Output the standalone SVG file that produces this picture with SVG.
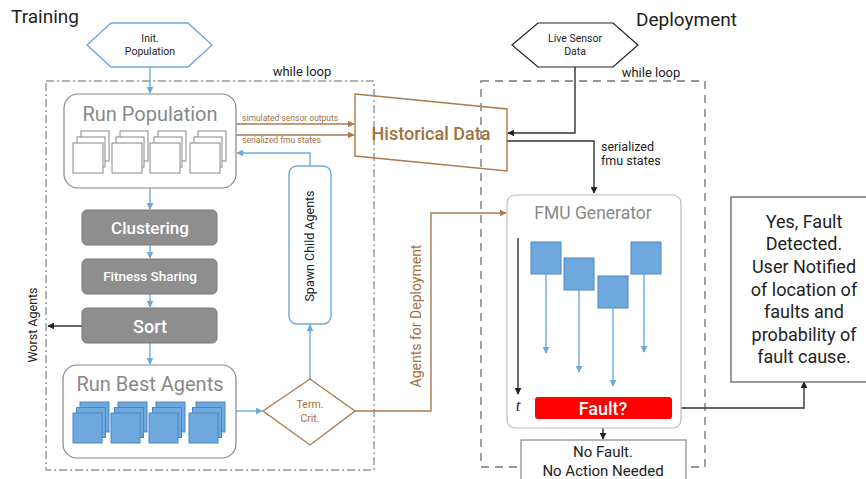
<svg xmlns="http://www.w3.org/2000/svg" width="866" height="479" viewBox="0 0 866 479">
<defs>
<style>
text{font-family:Roboto,"Liberation Sans",sans-serif;text-anchor:middle}
.title{font-size:19px;fill:#222;text-anchor:start}
.gbox{fill:#8e8e8e;stroke:#777;stroke-width:1}
.wtxt{fill:#fff;font-weight:500}
.rbox{fill:#fff;stroke:#888;stroke-width:1.2}
.gtitle{fill:#888;font-size:20px}
.paper{fill:#fff;stroke:#888;stroke-width:1}
.bpaper{fill:#6fa8dc;stroke:#4a86c8;stroke-width:1}
.blue{fill:none;stroke:#6fa8dc;stroke-width:1.4}
.brown{fill:none;stroke:#a97b4f;stroke-width:1.4}
.dark{fill:none;stroke:#333;stroke-width:1.4}
.btxt{fill:#a0703f}
.small{font-size:8.5px}
.loop1{fill:none;stroke:#999;stroke-width:1.5;stroke-dasharray:8 3 2 3}
.loop2{fill:none;stroke:#999;stroke-width:1.8;stroke-dasharray:8 6}
</style>
<marker id="ab" viewBox="0 0 10 10" refX="9" refY="5" markerWidth="7" markerHeight="7" orient="auto-start-reverse" markerUnits="userSpaceOnUse"><path d="M0,0 L10,5 L0,10 z" fill="#6fa8dc"/></marker>
<marker id="abr" viewBox="0 0 10 10" refX="9" refY="5" markerWidth="7" markerHeight="7" orient="auto" markerUnits="userSpaceOnUse"><path d="M0,0 L10,5 L0,10 z" fill="#a97b4f"/></marker>
<marker id="ak" viewBox="0 0 10 10" refX="9" refY="5" markerWidth="7" markerHeight="7" orient="auto" markerUnits="userSpaceOnUse"><path d="M0,0 L10,5 L0,10 z" fill="#222"/></marker>
<g id="stackG"><rect class="paper" x="8" y="-12" width="28" height="30"/><rect class="paper" x="4" y="-6" width="28" height="30"/><rect class="paper" x="0" y="0" width="30" height="30"/></g>
<g id="stackB"><rect class="bpaper" x="7" y="-11" width="29" height="30"/><rect class="bpaper" x="3.5" y="-5.5" width="29" height="30"/><rect class="bpaper" x="0" y="0" width="29" height="30"/></g>
</defs>
<rect width="866" height="479" fill="#fff"/>

<text class="title" x="11" y="23">Training</text>
<text class="title" x="636" y="26">Deployment</text>

<g id="loops">
<rect class="loop1" x="46" y="81" width="328" height="389"/>
<text x="302" y="76" style="font-size:13px;fill:#222">while loop</text>
<rect class="loop2" x="481" y="81" width="224" height="386"/>
<text x="651" y="77" style="font-size:13px;fill:#222">while loop</text>
</g>

<g id="connectors">
<line class="blue" x1="150" y1="67" x2="150" y2="93" marker-end="url(#ab)"/>
<line class="blue" x1="150" y1="188" x2="150" y2="209" marker-end="url(#ab)"/>
<line class="blue" x1="150" y1="245" x2="150" y2="258" marker-end="url(#ab)"/>
<line class="blue" x1="150" y1="294" x2="150" y2="307" marker-end="url(#ab)"/>
<line class="blue" x1="150" y1="343" x2="150" y2="364" marker-end="url(#ab)"/>
<line class="blue" x1="236" y1="411" x2="262" y2="411" marker-end="url(#ab)"/>
<line class="blue" x1="310" y1="379" x2="310" y2="325" marker-end="url(#ab)"/>
<polyline class="blue" points="310,167 310,153 237,153" marker-end="url(#ab)"/>
<line class="dark" x1="82" y1="326" x2="48" y2="326" marker-end="url(#ak)"/>
<text transform="translate(37,325) rotate(-90)" style="font-size:12.5px;fill:#222">Worst Agents</text>
<line class="brown" x1="236" y1="124" x2="354" y2="124" marker-end="url(#abr)"/>
<line class="brown" x1="236" y1="135" x2="354" y2="135" marker-end="url(#abr)"/>
<text class="btxt small" x="242" y="121" style="text-anchor:start">simulated sensor outputs</text>
<text class="btxt small" x="242" y="143" style="text-anchor:start">serialized fmu states</text>
<polyline class="brown" points="355,411 431,411 431,213 506,213" marker-end="url(#abr)"/>
<text class="btxt" transform="translate(421,316) rotate(-90)" style="font-size:14px">Agents for Deployment</text>
<polyline class="dark" points="575,67 575,133 508,133" marker-end="url(#ak)"/>
<polyline class="dark" points="507,141 594,141 594,193" marker-end="url(#ak)"/>
<text x="601" y="151" style="font-size:12.5px;fill:#222;text-anchor:start">serialized</text>
<text x="601" y="165" style="font-size:12.5px;fill:#222;text-anchor:start">fmu states</text>
<line class="dark" x1="603" y1="419" x2="603" y2="439" marker-end="url(#ak)"/>
<polyline class="dark" points="672,408 804,408 804,382" marker-end="url(#ak)"/>
</g>

<g id="init-population">
<polygon points="87,45 111,23 188,23 212,45 188,67 111,67" fill="#fff" stroke="#6fa8dc" stroke-width="1.4"/>
<text x="150" y="42" style="font-size:10.5px;fill:#222">Init.</text>
<text x="150" y="55" style="font-size:10.5px;fill:#222">Population</text>
</g>

<g id="run-population">
<rect class="rbox" x="64" y="94" width="172" height="94" rx="14"/>
<text class="gtitle" x="150" y="121">Run Population</text>
<use href="#stackG" x="73" y="143"/>
<use href="#stackG" x="112" y="143"/>
<use href="#stackG" x="150" y="143"/>
<use href="#stackG" x="190" y="143"/>
</g>

<g id="clustering">
<rect class="gbox" x="82" y="210" width="135" height="35" rx="5"/>
<text class="wtxt" x="150" y="234" style="font-size:17px">Clustering</text>
</g>
<g id="fitness-sharing">
<rect class="gbox" x="82" y="259" width="135" height="35" rx="5"/>
<text class="wtxt" x="150" y="281" style="font-size:13.5px">Fitness Sharing</text>
</g>
<g id="sort">
<rect class="gbox" x="82" y="308" width="135" height="35" rx="5"/>
<text class="wtxt" x="150" y="333" style="font-size:18px">Sort</text>
</g>

<g id="run-best-agents">
<rect class="rbox" x="63" y="365" width="173" height="93" rx="14"/>
<text class="gtitle" x="150" y="391">Run Best Agents</text>
<use href="#stackB" x="73" y="413"/>
<use href="#stackB" x="111" y="413"/>
<use href="#stackB" x="149" y="413"/>
<use href="#stackB" x="189" y="413"/>
</g>

<g id="term-crit">
<polygon points="263,411 310,379 355,411 310,445" fill="#fff" stroke="#a97b4f" stroke-width="1.4"/>
<text class="btxt" x="310" y="408" style="font-size:10.5px">Term.</text>
<text class="btxt" x="310" y="422" style="font-size:10.5px">Crit.</text>
</g>

<g id="spawn-child-agents">
<rect x="289" y="166" width="42" height="158" rx="8" fill="#fff" stroke="#6fa8dc" stroke-width="1.4"/>
<text transform="translate(314,246) rotate(-90)" style="font-size:12.5px;fill:#222">Spawn Child Agents</text>
</g>

<g id="historical-data">
<polygon points="355,94 507,109 507,171 355,156" fill="none" stroke="#a97b4f" stroke-width="1.4"/>
<text x="431" y="140" style="font-size:18px;fill:#a0703f;font-weight:500">Historical Data</text>
</g>

<g id="live-sensor-data">
<polygon points="512,45 538,23 613,23 638,45 613,67 538,67" fill="#fff" stroke="#222" stroke-width="1.2"/>
<text x="575" y="42" style="font-size:10.5px;fill:#222">Live Sensor</text>
<text x="575" y="55" style="font-size:10.5px;fill:#222">Data</text>
</g>

<g id="fmu-generator">
<rect x="507" y="195" width="174" height="233" rx="8" fill="#fff" stroke="#bbb" stroke-width="1.2"/>
<text x="593" y="219" style="font-size:17.5px;fill:#888">FMU Generator</text>
<line class="dark" x1="518" y1="238" x2="518" y2="394" stroke-width="1.6" marker-end="url(#ak)"/>
<text x="518" y="411" style="font-family:'Liberation Serif',serif;font-style:italic;font-size:17px;fill:#222">t</text>
<g fill="#6fa8dc" stroke="#4a86c8" stroke-width="1">
<rect x="531" y="242" width="30" height="32"/>
<rect x="564" y="258" width="30" height="32"/>
<rect x="598" y="276" width="30" height="32"/>
<rect x="631" y="242" width="30" height="32"/>
</g>
<line class="blue" x1="546" y1="274" x2="546" y2="353" stroke-width="1.2" marker-end="url(#ab)"/>
<line class="blue" x1="579" y1="290" x2="579" y2="372" stroke-width="1.2" marker-end="url(#ab)"/>
<line class="blue" x1="613" y1="308" x2="613" y2="386" stroke-width="1.2" marker-end="url(#ab)"/>
<line class="blue" x1="644" y1="274" x2="644" y2="352" stroke-width="1.2" marker-end="url(#ab)"/>
</g>

<g id="fault">
<rect x="535" y="397" width="137" height="22" rx="3" fill="#ff0000"/>
<text x="603" y="415" style="font-size:18px;fill:#fff;font-weight:500">Fault?</text>
</g>

<g id="no-fault">
<rect x="521" y="440" width="165" height="45" fill="#fff" stroke="#888" stroke-width="1.2"/>
<text x="603" y="457" style="font-size:15px;fill:#222">No Fault.</text>
<text x="603" y="476" style="font-size:15px;fill:#222">No Action Needed</text>
</g>

<g id="fault-detected">
<rect x="731" y="197" width="140" height="185" fill="#fff" stroke="#555" stroke-width="1.2"/>
<g style="font-size:18px;fill:#222">
<text x="804" y="228">Yes, Fault</text>
<text x="804" y="250">Detected.</text>
<text x="804" y="273">User Notified</text>
<text x="804" y="296">of location of</text>
<text x="804" y="318">faults and</text>
<text x="804" y="341">probability of</text>
<text x="804" y="363">fault cause.</text>
</g>
</g>
</svg>
